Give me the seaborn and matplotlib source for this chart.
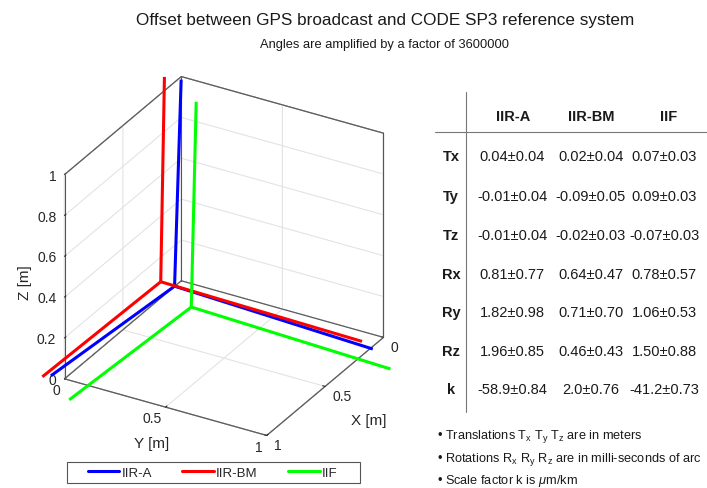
import numpy as np
import matplotlib
matplotlib.use("Agg")
import matplotlib.pyplot as plt
import seaborn as sns
from mpl_toolkits.mplot3d import proj3d
from matplotlib.lines import Line2D
from matplotlib.patches import Rectangle

# ---- Helmert parameters per satellite block (value, 1-sigma) ----
systems = ["IIR-A", "IIR-BM", "IIF"]
tx = [0.04, 0.02, 0.07]
tx_err = [0.04, 0.04, 0.03]
ty = [-0.01, -0.09, 0.09]
ty_err = [0.04, 0.05, 0.03]
tz = [-0.01, -0.02, -0.07]
tz_err = [0.04, 0.03, 0.03]
rx = [0.81, 0.64, 0.78]
rx_err = [0.77, 0.47, 0.57]
ry = [1.82, 0.71, 1.06]
ry_err = [0.98, 0.70, 0.53]
rz = [1.96, 0.46, 1.50]
rz_err = [0.85, 0.43, 0.88]
k = [-58.9, 2.0, -41.2]
k_err = [0.84, 0.76, 0.73]

row_names = ["Tx", "Ty", "Tz", "Rx", "Ry", "Rz", "k"]
axis_ticks_xy = [0, 0.5, 1]
axis_ticks_z = [0, 0.2, 0.4, 0.6, 0.8, 1]
tick_labels_xy = ["0", "0.5", "1"]
tick_labels_z = ["0", "0.2", "0.4", "0.6", "0.8", "1"]
amplification = 3600000

sns.set_theme(style="white")
plt.rcParams["font.family"] = ["Liberation Sans", "DejaVu Sans"]
plt.rcParams["mathtext.fontset"] = "custom"
plt.rcParams["mathtext.rm"] = "Liberation Sans"
plt.rcParams["mathtext.it"] = "Liberation Sans:italic"

colors = sns.color_palette(["#0000ff", "#ff0000", "#00ff00"])
edge_col = "#555555"
grid_col = "#e3e3e3"
text_col = "#262626"

fig = plt.figure(figsize=(7.07, 4.89), dpi=100)
ax = fig.add_axes([0.0, 0.08, 0.6, 0.8], projection="3d", proj_type="ortho")
ax.computed_zorder = False


def frame_axes(i):
    """Origin and rotated unit axes of one reference frame (angles amplified)."""
    mas_to_rad = 1e-3 / 3600.0 * np.pi / 180.0 * amplification
    a, b, c = rx[i] * mas_to_rad, ry[i] * mas_to_rad, rz[i] * mas_to_rad
    rot = np.array([[1.0, c, -b],
                    [-c, 1.0, a],
                    [b, -a, 1.0]])
    scale = 1.0 + k[i] * 1e-9
    origin = np.array([tx[i], ty[i], tz[i]])
    return origin, rot * scale


ax.set_xlim(0, 1)
ax.set_ylim(0, 1)
ax.set_zlim(0, 1)

# back edges of the box, drawn above the grid
(x0, x1), (y0, y1), (z0, z1) = ax.get_xlim(), ax.get_ylim(), ax.get_zlim()
back_edges = [((x0, x1), (y0, y0), (z0, z0)), ((x0, x0), (y0, y1), (z0, z0)),
              ((x0, x0), (y0, y0), (z0, z1)), ((x0, x1), (y0, y0), (z1, z1)),
              ((x0, x0), (y0, y1), (z1, z1)), ((x0, x0), (y1, y1), (z0, z1))]
for ex, ey, ez in back_edges:
    ax.plot(ex, ey, ez, color=edge_col, lw=0.8)

for i, name in enumerate(systems):
    origin, rot = frame_axes(i)
    for j in range(3):
        end = origin + rot[:, j]
        ax.plot([origin[0], end[0]], [origin[1], end[1]], [origin[2], end[2]],
                color=colors[i], lw=2.2, solid_capstyle="butt")

ax.set_box_aspect((1, 1, 1))
ax.view_init(elev=29, azim=30)
ax.set_xticks(axis_ticks_xy)
ax.set_yticks(axis_ticks_xy)
ax.set_zticks(axis_ticks_z)
ax.set_xticklabels(tick_labels_xy)
ax.set_yticklabels(tick_labels_xy)
ax.set_zticklabels(tick_labels_z)
ax.tick_params(labelsize=10, colors=text_col)
ax.xaxis.set_tick_params(pad=-2.6)
ax.yaxis.set_tick_params(pad=-2.6)
ax.zaxis.set_tick_params(pad=-4.2)
plt.setp(ax.get_xticklabels(), ha="left", va="center")
plt.setp(ax.get_yticklabels(), ha="right", va="center")
plt.setp(ax.get_zticklabels(), ha="right", va="center")

ax.xaxis.set_rotate_label(False)
ax.yaxis.set_rotate_label(False)
ax.set_xlabel("X [m]", fontsize=11, color=text_col, labelpad=-2, rotation=0)
ax.set_ylabel("Y [m]", fontsize=11, color=text_col, labelpad=-3.6, rotation=0)
ax.set_zlabel("Z [m]", fontsize=11, color=text_col, labelpad=-2.6)
ax.xaxis._axinfo["label"]["ha"] = "left"

ax.grid(True)
for axis in (ax.xaxis, ax.yaxis, ax.zaxis):
    axis.set_pane_color((1, 1, 1, 1))
    axis.pane.set_edgecolor(edge_col)
    axis.pane.set_linewidth(0.8)
    axis.line.set_color(edge_col)
    axis.line.set_linewidth(0.8)
    axis._axinfo["tick"]["inward_factor"] = 0.0
    axis._axinfo["tick"]["outward_factor"] = 0.15
    axis._axinfo["tick"]["color"] = edge_col
    axis._axinfo["tick"]["linewidth"] = {True: 0.8, False: 0.5}
    axis._axinfo["grid"]["color"] = grid_col
    axis._axinfo["grid"]["linewidth"] = 0.8
ax.zaxis.set_ticks_position("lower")
ax.zaxis.set_label_position("lower")

# fit the projected box into its place on the canvas
W, H = 707, 489
target = (65, 52, 383, 412)  # x0, y0, x1, y1 in canvas pixels (origin bottom-left)
corners = np.array([[x, y, z] for x in (0, 1) for y in (0, 1) for z in (0, 1)], float)
for _ in range(3):
    fig.canvas.draw()
    px, py, _z = proj3d.proj_transform(corners[:, 0], corners[:, 1], corners[:, 2], ax.get_proj())
    pts = ax.transData.transform(np.column_stack([px, py]))
    cur = (pts[:, 0].min(), pts[:, 1].min(), pts[:, 0].max(), pts[:, 1].max())
    s = ((target[2] - target[0]) / (cur[2] - cur[0]) + (target[3] - target[1]) / (cur[3] - cur[1])) / 2
    pos = ax.get_position(original=False)
    side = pos.width * W
    cx, cy = (pos.x0 + pos.width / 2) * W, (pos.y0 + pos.height / 2) * H
    bx, by = (cur[0] + cur[2]) / 2, (cur[1] + cur[3]) / 2
    tcx, tcy = (target[0] + target[2]) / 2, (target[1] + target[3]) / 2
    ncx = tcx - (bx - cx) * s
    ncy = tcy - (by - cy) * s
    nside = side * s
    ax.set_position([(ncx - nside / 2) / W, (ncy - nside / 2) / H, nside / W, nside / H])

# ---- titles ----
fig.text(385 / W, 1 - 20 / H, "Offset between GPS broadcast and CODE SP3 reference system",
         ha="center", va="center", fontsize=12.3, color="#1a1a1a")
fig.text(385 / W, 1 - 45 / H, "Angles are amplified by a factor of 3600000",
         ha="center", va="center", fontsize=9.3, color="#1a1a1a")

# ---- legend ----
handles = [Line2D([], [], color=colors[i], lw=2.2) for i in range(3)]
fig.legend(handles, systems, loc="center", bbox_to_anchor=(212.5 / W, 1 - 473.5 / H),
           ncol=3, fontsize=9.5, frameon=False, handlelength=2.4,
           handletextpad=0.15, columnspacing=2.3, borderpad=0.2)
fig.add_artist(Rectangle((67 / W, 1 - 484 / H), 293 / W, 21 / H, transform=fig.transFigure,
                         fill=False, edgecolor=edge_col, lw=0.8))

# ---- parameter table ----
col_x = [512, 591, 664]
head_y = 117
row_y = [157, 197, 236, 275, 313, 352, 390]
values = [(tx, tx_err), (ty, ty_err), (tz, tz_err), (rx, rx_err), (ry, ry_err), (rz, rz_err), (k, k_err)]
fmts = ["{:.2f}\u00b1{:.2f}"] * 6 + ["{:.1f}\u00b1{:.2f}"]

for name, x in zip(systems, [513, 591, 669]):
    fig.text(x / W, 1 - head_y / H, name, ha="center", va="center",
             fontsize=10.5, fontweight="bold", color="#1a1a1a")
for r, (name, (val, err), fmt) in enumerate(zip(row_names, values, fmts)):
    y = 1 - row_y[r] / H
    fig.text(451 / W, y, name, ha="center", va="center", fontsize=10.5,
             fontweight="bold", color="#1a1a1a")
    for c in range(3):
        fig.text(col_x[c] / W, y, fmt.format(val[c], err[c]), ha="center", va="center",
                 fontsize=10.5, color="#1a1a1a")

fig.add_artist(Line2D([466 / W, 466 / W], [1 - 93 / H, 1 - 413 / H], color="#777777", lw=0.8))
fig.add_artist(Line2D([435 / W, 1.0], [1 - 133 / H, 1 - 133 / H], color="#777777", lw=0.8))

# ---- notes ----
notes = [r"Translations $\mathregular{T_x\ T_y\ T_z}$ are in meters",
         r"Rotations $\mathregular{R_x\ R_y\ R_z}$ are in milli-seconds of arc",
         r"Scale factor k is $\mu$m/km"]
for n, y in zip(notes, [437, 459, 481]):
    fig.text(437 / W, 1 - y / H, "\u2022 " + n, ha="left", va="center", fontsize=9.2,
             color="#1a1a1a")

fig.savefig("out.png", dpi=100)
